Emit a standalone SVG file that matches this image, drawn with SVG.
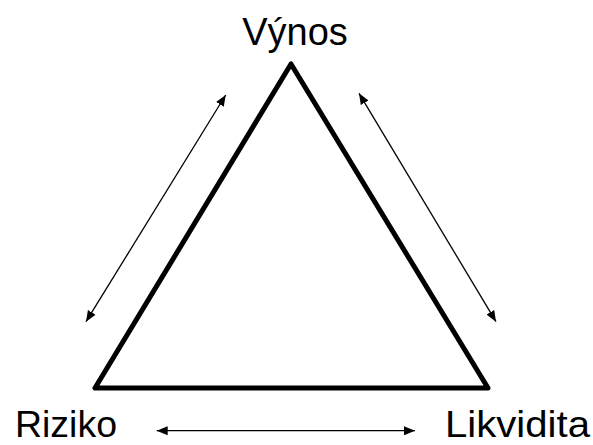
<svg xmlns="http://www.w3.org/2000/svg" width="593" height="445" viewBox="0 0 593 445">
<style>
.lbl{font-family:"Liberation Sans",Arial,sans-serif;font-size:38px;fill:#000}
.bot{font-size:37px}
.conn{stroke:#000;stroke-width:1.3;fill:none;marker-start:url(#ah);marker-end:url(#ah)}
</style>
<defs>
<marker id="ah" markerUnits="userSpaceOnUse" markerWidth="12" markerHeight="12" viewBox="0 0 12 12" refX="11" refY="6" orient="auto-start-reverse">
<path d="M0,1.5 L11,6 L0,10.5 Z" fill="#000"/>
</marker>
</defs>
<rect width="593" height="445" fill="#fff"/>
<g id="triangle">
<polygon points="291,64 95,388 488,388" fill="none" stroke="#000" stroke-width="5" stroke-linejoin="round"/>
</g>
<g id="vynos"><text class="lbl" x="295" y="45" text-anchor="middle">Výnos</text></g>
<g id="riziko"><text class="lbl bot" x="15" y="437" textLength="102" lengthAdjust="spacingAndGlyphs">Riziko</text></g>
<g id="likvidita"><text class="lbl bot" x="445" y="437" textLength="145" lengthAdjust="spacingAndGlyphs">Likvidita</text></g>
<g id="connectors">
<path class="conn" d="M225.7,95 L86,321.7"/>
<path class="conn" d="M359,93.3 L496,321.7"/>
<path class="conn" d="M156.7,430.7 L415,430.7"/>
</g>
</svg>
